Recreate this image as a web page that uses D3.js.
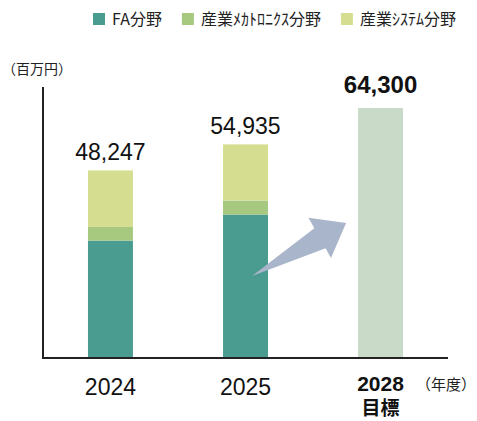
<!DOCTYPE html>
<html>
<head>
<meta charset="utf-8">
<script src="https://cdn.jsdelivr.net/npm/d3@7"></script>
<style>
	body { margin: 0; background: #fff; }
	svg { display: block; }
	.num { font-family: "Liberation Sans", Arial, sans-serif; fill: #111; }
	.jp { font-family: "Noto Sans CJK JP", sans-serif; fill: #222; }
</style>
</head>
<body>
<div id="chart"></div>
<script>
// data
const years = ["2024", "2025", "2028"];
const seriesNames = ["FA分野", "産業ﾒｶﾄﾛﾆｸｽ分野", "産業ｼｽﾃﾑ分野"];
const faValues = [30200, 36900, null];
const mechaValues = [3500, 3600, null];
const systemValues = [14547, 14435, null];
const totals = [48247, 54935, 64300];
const totalLabels = ["48,247", "54,935", "64,300"];
const targetYear = "2028";

const W = 477, H = 421;
const colors = ["#4a9b90", "#a6c97f", "#d5de90"];
const targetColor = "#c9dac9";

var svg = d3.select("#chart").append("svg")
	.attr("width", W)
	.attr("height", H);

// scales
var x = d3.scaleBand()
	.domain(years)
	.range([43, 448])
	.paddingInner(0.667)
	.paddingOuter(0.333);
var y = d3.scaleLinear()
	.domain([0, 69700])
	.range([358, 87]);

// stack the actual years
var rows = years.map((yr, i) => ({
	year: yr, fa: faValues[i], mecha: mechaValues[i], sys: systemValues[i]
})).filter(d => d.fa != null);
var stack = d3.stack().keys(["fa", "mecha", "sys"]);
var layers = stack(rows);

svg.append("g").selectAll("g")
	.data(layers)
	.join("g")
	.attr("fill", (d, i) => colors[i])
	.selectAll("rect")
	.data(d => d)
	.join("rect")
	.attr("x", d => x(d.data.year))
	.attr("width", x.bandwidth())
	.attr("y", d => y(d[1]))
	.attr("height", d => y(d[0]) - y(d[1]));

// target bar
var ti = years.indexOf(targetYear);
svg.append("rect")
	.attr("x", x(targetYear))
	.attr("width", x.bandwidth())
	.attr("y", y(totals[ti]))
	.attr("height", y(0) - y(totals[ti]))
	.attr("fill", targetColor);

// arrow from 2025 towards the target
var tail = [x("2025") + x.bandwidth() - 16, y(21100)];
var tip = [x(targetYear) - 12, y(34700)];
var dx = tip[0] - tail[0], dy = tip[1] - tail[1];
var len = Math.hypot(dx, dy);
var ux = dx / len, uy = dy / len, vx = -uy, vy = ux;
var shape = [[0, 0], [0.72, -11], [0.72, -23], [1, 0], [0.72, 23], [0.72, 12]];
var pts = shape.map(p => [tail[0] + p[0] * len * ux + p[1] * vx,
	tail[1] + p[0] * len * uy + p[1] * vy]);
svg.append("path")
	.attr("d", d3.line()(pts) + "Z")
	.attr("fill", "#a9b5ca");

// axes lines
svg.append("line")
	.attr("x1", x.range()[0]).attr("x2", x.range()[0])
	.attr("y1", y(0) + 1).attr("y2", y.range()[1])
	.attr("stroke", "#222").attr("stroke-width", 2);
svg.append("line")
	.attr("x1", x.range()[0] - 1).attr("x2", x.range()[1])
	.attr("y1", y(0)).attr("y2", y(0))
	.attr("stroke", "#222").attr("stroke-width", 2);

// total labels
svg.append("g").selectAll("text")
	.data(years)
	.join("text")
	.attr("class", "num")
	.attr("text-anchor", "middle")
	.attr("x", d => x(d) + x.bandwidth() / 2)
	.attr("y", (d, i) => y(totals[i]) - (d === targetYear ? 15 : 10))
	.style("font-size", d => d === targetYear ? "24px" : "23px")
	.style("font-weight", d => d === targetYear ? "bold" : "normal")
	.text((d, i) => totalLabels[i]);

// year labels
svg.append("g").selectAll("text")
	.data(years)
	.join("text")
	.attr("class", "num")
	.attr("text-anchor", "middle")
	.attr("x", d => x(d) + x.bandwidth() / 2)
	.attr("y", d => d === targetYear ? 391 : 395)
	.style("font-size", d => d === targetYear ? "21px" : "23px")
	.style("font-weight", d => d === targetYear ? "bold" : "normal")
	.text(d => d);

svg.append("text")
	.attr("class", "jp")
	.attr("text-anchor", "middle")
	.attr("x", x(targetYear) + x.bandwidth() / 2)
	.attr("y", 415)
	.style("font-size", "19px")
	.style("font-weight", "bold")
	.style("fill", "#111")
	.text("目標");

svg.append("text")
	.attr("class", "jp")
	.attr("text-anchor", "end")
	.attr("x", 476)
	.attr("y", 390)
	.style("font-size", "15px")
	.text("（年度）");

svg.append("text")
	.attr("class", "jp")
	.attr("x", 2)
	.attr("y", 74)
	.style("font-size", "14px")
	.text("（百万円）");

// legend
var legend = svg.append("g").attr("transform", "translate(93,0)");
var lx = 0;
seriesNames.forEach(function(name, i) {
	var item = legend.append("g").attr("transform", "translate(" + lx + ",0)");
	item.append("rect")
		.attr("x", 0).attr("y", 13)
		.attr("width", 12).attr("height", 12)
		.attr("fill", colors[i]);
	var t = item.append("text")
		.attr("class", "jp")
		.attr("x", 19).attr("y", 25)
		.style("font-size", "16px")
		.text(name);
	lx += 19 + t.node().getComputedTextLength() + 20;
});
</script>
</body>
</html>
